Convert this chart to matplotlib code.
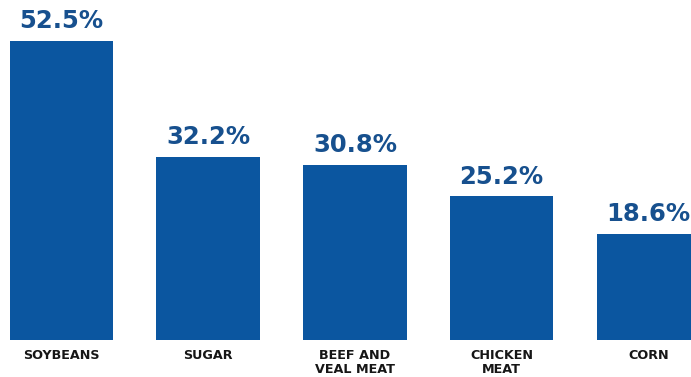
import matplotlib
matplotlib.use("Agg")
import matplotlib.pyplot as plt

# share values by product
categories = ["SOYBEANS", "SUGAR", "BEEF AND\nVEAL MEAT", "CHICKEN\nMEAT", "CORN"]
values = [52.5, 32.2, 30.8, 25.2, 18.6]
value_labels = ["52.5%", "32.2%", "30.8%", "25.2%", "18.6%"]

bar_color = "#0b56a0"
text_color = "#17508e"

fig = plt.figure(figsize=(6.91, 3.77), dpi=100)
ax = fig.add_axes([0, 0, 1, 1])

x = range(len(values))
ax.bar(x, values, width=0.705, color=bar_color)

for i, (v, lab) in enumerate(zip(values, value_labels)):
    ax.annotate(lab, (i, v), xytext=(0, 5.5), textcoords="offset points",
                ha="center", va="bottom", fontsize=17.5, fontweight="bold",
                color=text_color)

for i, cat in enumerate(categories):
    ax.annotate(cat, (i, 0), xytext=(0, -6.5), textcoords="offset points",
                ha="center", va="top", fontsize=9.2, fontweight="heavy",
                color="#161616", linespacing=1.1)

ax.set_xlim(-0.418, 4.29)
ax.set_ylim(-6.5, 59.7)
ax.axis("off")

fig.savefig("out.png", dpi=100)
